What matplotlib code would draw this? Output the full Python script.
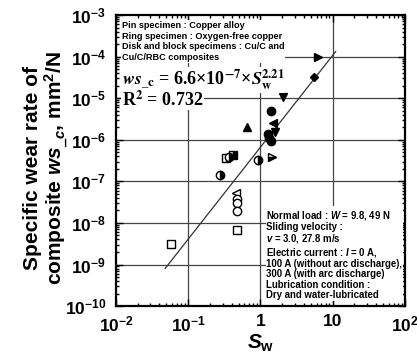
import matplotlib
matplotlib.use("Agg")
import matplotlib.pyplot as plt
import numpy as np

plt.rcParams['font.family'] = ['Liberation Sans', 'DejaVu Sans']
plt.rcParams['font.weight'] = 'bold'
plt.rcParams['mathtext.fontset'] = 'custom'
plt.rcParams['mathtext.rm'] = 'Liberation Sans:bold'
plt.rcParams['mathtext.bf'] = 'Liberation Sans:bold'
plt.rcParams['mathtext.it'] = 'Liberation Sans:italic:bold'

# data: (Sw, ws_c), grouped by marker
filled_circle_sw = [1.39, 1.26, 1.39, 1.32]
filled_circle_ws = [4.9e-6, 1.4e-6, 9.3e-7, 1.1e-6]
filled_up_sw = [0.65]
filled_up_ws = [2.0e-6]
filled_left_sw = [1.48]
filled_left_ws = [2.5e-6]
filled_down_sw = [2.04, 1.58]
filled_down_ws = [1.07e-5, 1.5e-6]
filled_diamond_sw = [5.6]
filled_diamond_ws = [3.2e-5]
filled_right_sw = [6.2]
filled_right_ws = [1.0e-4]
half_square_sw = [0.33, 0.42]
half_square_ws = [3.6e-7, 4.2e-7]
half_circle_sw = [0.37, 0.275, 0.92]
half_circle_ws = [3.9e-7, 1.4e-7, 3.2e-7]
half_right_sw = [1.44]
half_right_ws = [3.9e-7]
open_left_sw = [0.46]
open_left_ws = [5.2e-8]
open_circle_sw = [0.47, 0.48, 0.47]
open_circle_ws = [3.8e-8, 3.0e-8, 1.95e-8]
open_square_sw = [0.47, 0.057]
open_square_ws = [6.8e-9, 3.2e-9]

# fit ws_c = 6.6e-7 * Sw^2.21
fit_coef = 6.6e-7
fit_exp = 2.21
fit_range = [0.048, 11.0]

fig = plt.figure(figsize=(4.17, 3.58), dpi=100)
ax = fig.add_axes([0.278, 0.145, 0.693, 0.813])
ax.set_xscale('log')
ax.set_yscale('log')
ax.set_xlim(1e-2, 1e2)
ax.set_ylim(1e-10, 1e-3)

for v in [1e-1, 1, 10]:
    ax.axvline(v, color='#444444', lw=0.9, zorder=1)
for e in range(-9, -3):
    ax.axhline(10.0 ** e, color='#444444', lw=0.9, zorder=1)

xs = np.logspace(np.log10(fit_range[0]), np.log10(fit_range[1]), 50)
ax.plot(xs, fit_coef * xs ** fit_exp, color='#333333', lw=0.9, zorder=2)

ms = 6
kw = dict(ls='none', color='black', markersize=ms, zorder=4, mew=1.0)
ax.plot(filled_circle_sw, filled_circle_ws, 'o', **kw)
ax.plot(filled_up_sw, filled_up_ws, '^', **kw)
ax.plot(filled_left_sw, filled_left_ws, '<', **kw)
ax.plot(filled_down_sw, filled_down_ws, 'v', **kw)
ax.plot(filled_diamond_sw, filled_diamond_ws, 'D', ls='none', color='black',
        markersize=4.5, zorder=4)
ax.plot(filled_right_sw, filled_right_ws, '>', **kw)
ax.plot(half_square_sw, half_square_ws, 's', fillstyle='right',
        markerfacecoloralt='white', **kw)
ax.plot(half_circle_sw, half_circle_ws, 'o', fillstyle='right',
        markerfacecoloralt='white', **kw)
ax.plot(half_right_sw, half_right_ws, '>', fillstyle='bottom',
        markerfacecoloralt='white', **kw)
ax.plot(open_left_sw, open_left_ws, '<', mfc='white', **kw)
ax.plot(open_circle_sw, open_circle_ws, 'o', mfc='white', **kw)
ax.plot(open_square_sw, open_square_ws, 's', mfc='white', **kw)

box = dict(facecolor='white', edgecolor='none', pad=0.5)
ax.text(0.02, 0.98,
        'Pin specimen : Copper alloy\n'
        'Ring specimen : Oxygen-free copper\n'
        'Disk and block specimens : Cu/C and\n'
        'Cu/C/RBC composites',
        transform=ax.transAxes, fontsize=6.6, fontweight='bold',
        va='top', ha='left', linespacing=1.25, bbox=box, zorder=5)
ax.text(0.02, 0.777,
        r'$\mathbfit{ws}_{\_\mathbf{c}}$ = 6.6×10$^{\mathbf{-7}}$×$\mathbfit{S}_{\mathbf{w}}^{\mathbf{2.21}}$',
        transform=ax.transAxes, fontsize=13, fontweight='bold', va='center', ha='left',
        family='Liberation Serif', math_fontfamily='stix', bbox=box, zorder=5)
ax.text(0.02, 0.708, r'R$^{\mathbf{2}}$ = 0.732',
        transform=ax.transAxes, fontsize=13, fontweight='bold', va='center', ha='left',
        family='Liberation Serif', math_fontfamily='stix', bbox=box, zorder=5)
ax.text(0.52, 0.335,
        'Normal load : $\\mathit{W}$ = 9.8, 49 N\n'
        'Sliding velocity :\n'
        '$\\mathit{v}$ = 3.0, 27.8 m/s\n'
        'Electric current : $\\mathit{I}$ = 0 A,\n'
        '100 A (without arc discharge),\n'
        '300 A (with arc discharge)\n'
        'Lubrication condition :\n'
        'Dry and water-lubricated',
        transform=ax.transAxes, fontsize=6.9, fontweight='bold',
        va='top', ha='left', linespacing=1.04, bbox=box, zorder=5)

ax.set_xticks([1e-2, 1e-1, 1, 10, 1e2])
ax.set_xticklabels(['10$^{-2}$', '10$^{-1}$', '1', '10', '10$^{2}$'])
ax.set_yticks([10.0 ** e for e in range(-10, -2)])
ax.set_yticklabels(['10$^{%d}$' % e for e in range(-10, -2)])
ax.tick_params(axis='x', labelsize=12.5, pad=6)
ax.tick_params(axis='y', labelsize=12.5, pad=7)
ax.tick_params(which='both', direction='in', top=True, right=True, width=1)
ax.tick_params(which='major', length=5)
ax.tick_params(which='minor', length=2.5)
for sp in ax.spines.values():
    sp.set_linewidth(1.6)

ax.set_xlabel(r'$\mathit{S}_{\mathbf{w}}$', fontsize=15, labelpad=-1)
ax.set_ylabel('Specific wear rate of\ncomposite $\\mathit{ws}_{\\_c}$, mm$^{2}$/N',
              fontsize=15, fontweight='bold', linespacing=1.0)
ax.yaxis.set_label_coords(-0.16, 0.474)

fig.savefig('out.png', dpi=100)
